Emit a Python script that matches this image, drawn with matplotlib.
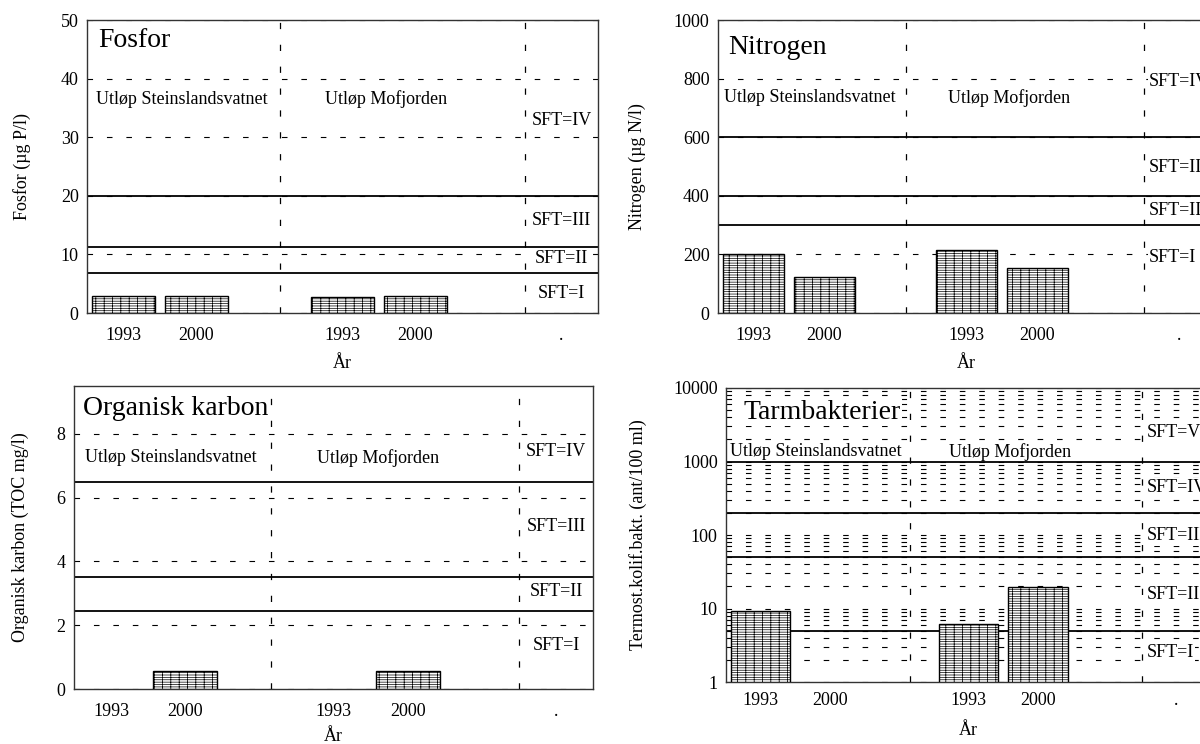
import numpy as np
import matplotlib
matplotlib.use("Agg")
import matplotlib.pyplot as plt
from matplotlib.ticker import FixedLocator, NullFormatter

plt.rcParams['font.family'] = ['Liberation Serif', 'DejaVu Serif']
plt.rcParams['hatch.linewidth'] = 0.5

nan = np.nan

# categories along x: two stations, two years each, plus spacers
x_labels = ["1993", "2000", "", "1993", "2000", "", "."]
stations = ["Utløp Steinslandsvatnet", "Utløp Mofjorden"]
sft_names = ["SFT=I", "SFT=II", "SFT=III", "SFT=IV", "SFT=V"]

fosfor = [2.95, 2.85, nan, 2.7, 2.85, nan, nan]
nitrogen = [200, 122, nan, 215, 152, nan, nan]
toc = [nan, 0.57, nan, nan, 0.57, nan, nan]
bakt = [9.2, nan, nan, 6.1, 19.5, nan, nan]

fosfor_limits = [6.8, 11.3, 20]
nitrogen_limits = [300, 400, 600]
toc_limits = [2.45, 3.5, 6.5]
bakt_limits = [5, 50, 200, 1000]

DASH = (0, (5, 12.5))
HATCH = "||" + "-" * 7


def panel(rect, values, limits, title, ylabel, ylim, yticks, title_y,
          station_y, sft_y, ylabel_x, xl_y, log=False, pad=10,
          sft_left=False):
    ax = fig.add_axes(rect)
    x = np.arange(len(x_labels))
    if log:
        ax.set_yscale('log')
        ax.yaxis.set_minor_locator(FixedLocator(
            [m * 10 ** e for e in range(4) for m in range(2, 10)]))
        ax.yaxis.set_minor_formatter(NullFormatter())
        ax.grid(axis='y', which='both', ls=DASH, color='black', lw=0.8)
    else:
        ax.grid(axis='y', which='major', ls=DASH, color='black', lw=0.8)
    ax.set_axisbelow(True)
    ax.bar(x, values, width=0.86, facecolor='white', edgecolor='black',
           hatch=HATCH, lw=1.0, zorder=3)
    for v in limits:
        ax.axhline(v, color='black', lw=1.3, zorder=2)
    for xv in (2.15, 5.5):
        ax.axvline(xv, color='black', ls=DASH, lw=0.9, zorder=2)

    ax.set_xlim(-0.5, 6.5)
    ax.set_ylim(*ylim)
    ax.set_yticks(yticks)
    ax.set_yticklabels([str(t) for t in yticks])
    ax.set_xticks(x)
    ax.set_xticklabels(x_labels)
    ax.tick_params(axis='both', which='both', length=0, labelsize=13)
    ax.tick_params(axis='x', pad=pad)
    ax.tick_params(axis='y', pad=6)
    for s in ax.spines.values():
        s.set_linewidth(1.0)
        s.set_color('#333333')

    bb = dict(fc='white', ec='none', pad=1)
    ax.text(title[1], title_y, title[0], fontsize=20, va='center',
            ha='left', bbox=bb, zorder=4)
    ax.text(0.8, station_y, stations[0], fontsize=13, ha='center',
            va='center', zorder=4)
    ax.text(3.6, station_y, stations[1], fontsize=13, ha='center',
            va='center', zorder=4)
    for name, yv in zip(sft_names, sft_y):
        if sft_left:
            ax.text(5.57, yv, name, fontsize=13, ha='left', va='center',
                    bbox=bb, zorder=4)
        else:
            ax.text(6.0, yv, name, fontsize=13, ha='center', va='center',
                    bbox=bb, zorder=4)

    ax.set_ylabel(ylabel, fontsize=13)
    ax.yaxis.set_label_coords(ylabel_x, 0.5)
    ax.set_xlabel("År", fontsize=13)
    ax.xaxis.set_label_coords(0.5, xl_y)
    return ax


fig = plt.figure(figsize=(12, 7.44), dpi=100)

panel([0.0725, 0.5793, 0.4258, 0.3938], fosfor, fosfor_limits,
      ("Fosfor", -0.35), "Fosfor (µg P/l)", (0, 50), [0, 10, 20, 30, 40, 50],
      46.5, 36.5, [3.4, 9.3, 15.8, 32.8], -0.109, -0.143)

panel([0.5983, 0.5793, 0.4142, 0.3938], nitrogen, nitrogen_limits,
      ("Nitrogen", -0.35), "Nitrogen (µg N/l)", (0, 1000),
      [0, 200, 400, 600, 800, 1000],
      905, 735, [190, 350, 495, 790], -0.144, -0.143, sft_left=True)

panel([0.0617, 0.0739, 0.4325, 0.4073], toc, toc_limits,
      ("Organisk karbon", -0.38), "Organisk karbon (TOC mg/l)", (0, 9.5),
      [0, 2, 4, 6, 8],
      8.8, 7.25, [1.35, 3.05, 5.1, 7.45], -0.086, -0.13)

panel([0.605, 0.0833, 0.4042, 0.3952], bakt, bakt_limits,
      ("Tarmbakterier", -0.25), "Termost.kolif.bakt. (ant/100 ml)",
      (1, 10000), [1, 10, 100, 1000, 10000],
      4700, 1350, [2.5, 15.5, 98, 440, 2450], -0.162, -0.136, log=True,
      pad=7, sft_left=True)

fig.savefig("out.png", dpi=100)
